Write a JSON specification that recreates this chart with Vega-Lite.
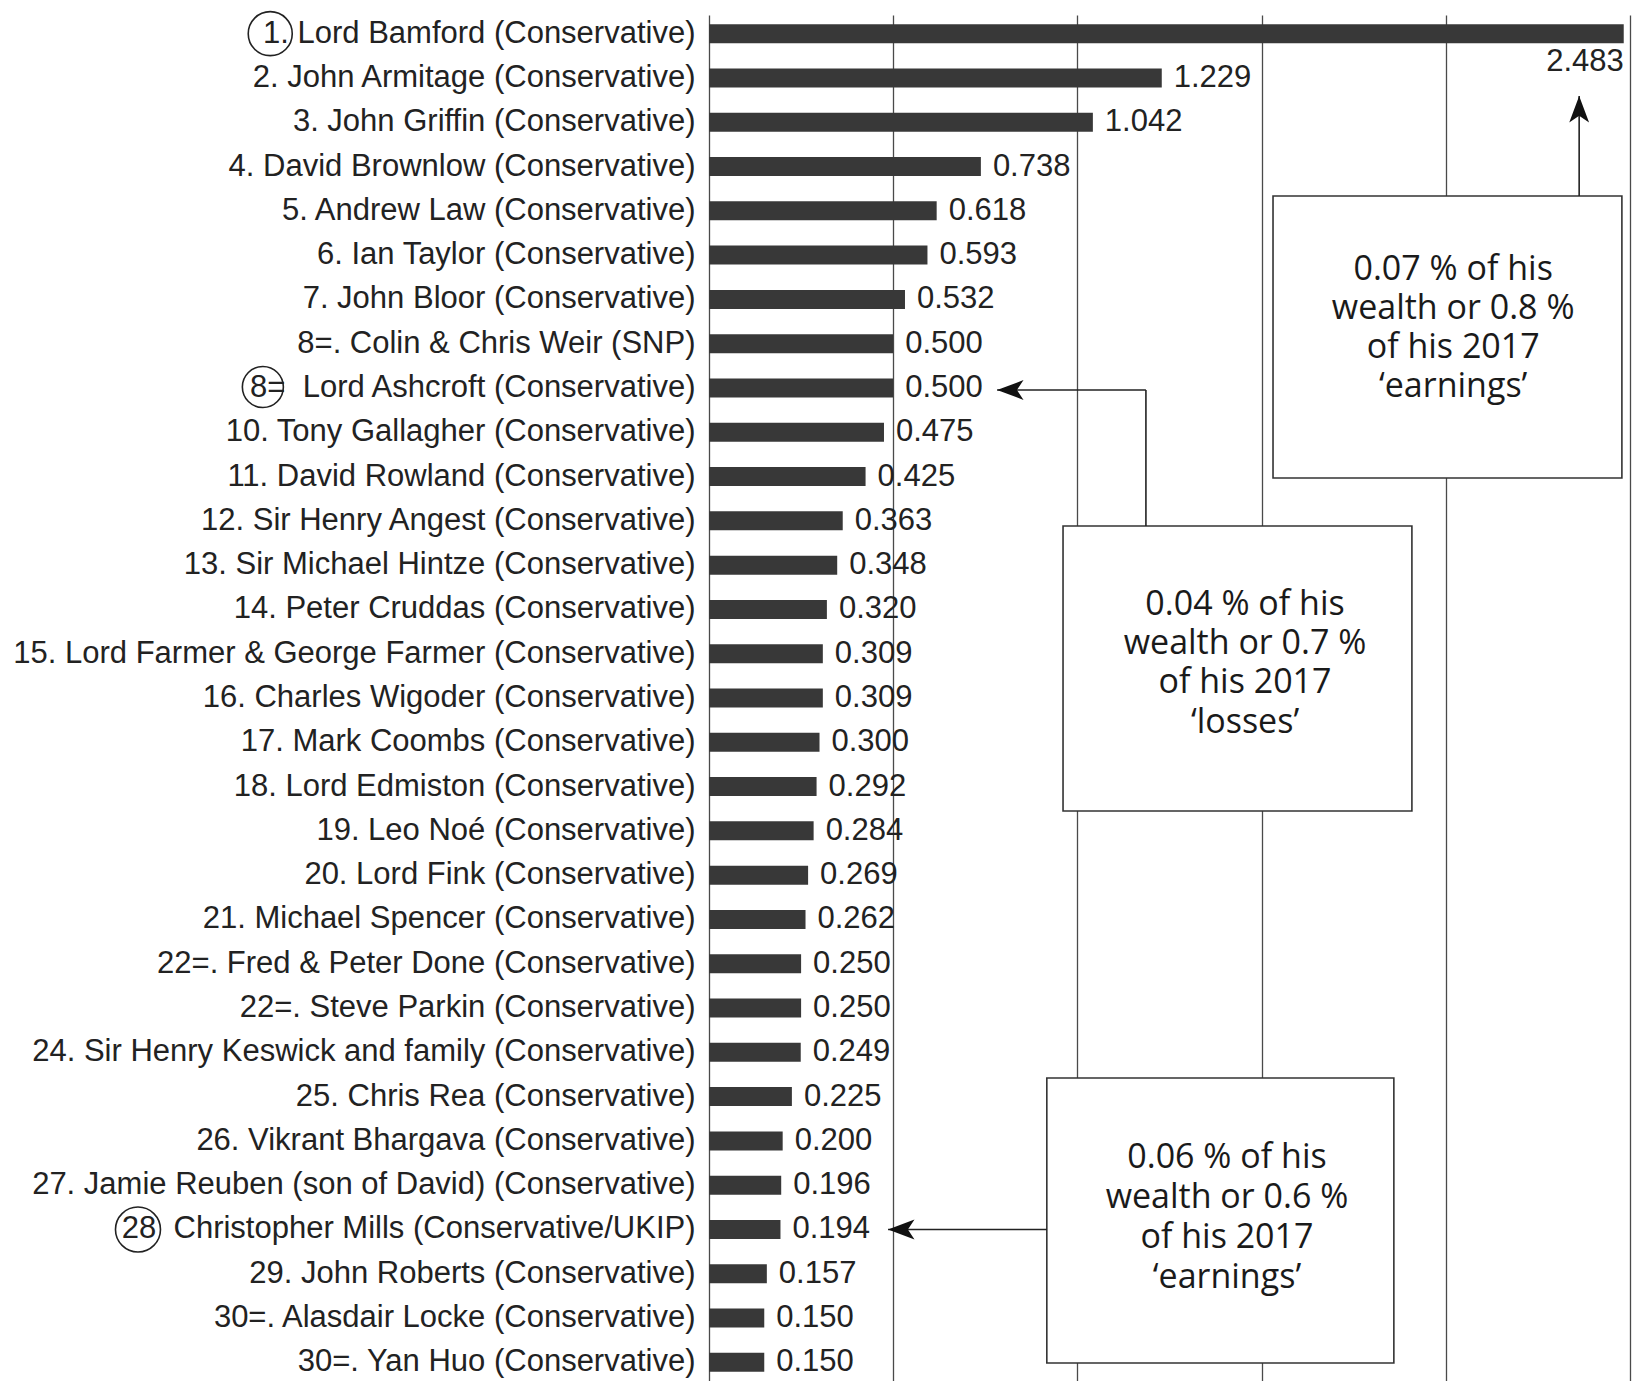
{
  "$schema": "https://vega.github.io/schema/vega-lite/v6.json",
  "autosize": {"type": "none"},
  "padding": {"left": 709, "top": 15, "right": 4, "bottom": 0},
  "width": 921,
  "height": 1366,
  "background": "white",
  "config": {"view": {"stroke": null}},
  "datasets": {
    "donors": [
      {"order": 1, "label": "1. Lord Bamford (Conservative)", "value": 2.483},
      {"order": 2, "label": "2. John Armitage (Conservative)", "value": 1.229},
      {"order": 3, "label": "3. John Griffin (Conservative)", "value": 1.042},
      {"order": 4, "label": "4. David Brownlow (Conservative)", "value": 0.738},
      {"order": 5, "label": "5. Andrew Law (Conservative)", "value": 0.618},
      {"order": 6, "label": "6. Ian Taylor (Conservative)", "value": 0.593},
      {"order": 7, "label": "7. John Bloor (Conservative)", "value": 0.532},
      {"order": 8, "label": "8=. Colin & Chris Weir (SNP)", "value": 0.500},
      {"order": 9, "label": "8=\u00a0 Lord Ashcroft (Conservative)", "value": 0.500},
      {"order": 10, "label": "10. Tony Gallagher (Conservative)", "value": 0.475},
      {"order": 11, "label": "11. David Rowland (Conservative)", "value": 0.425},
      {"order": 12, "label": "12. Sir Henry Angest (Conservative)", "value": 0.363},
      {"order": 13, "label": "13. Sir Michael Hintze (Conservative)", "value": 0.348},
      {"order": 14, "label": "14. Peter Cruddas (Conservative)", "value": 0.320},
      {"order": 15, "label": "15. Lord Farmer & George Farmer (Conservative)", "value": 0.309},
      {"order": 16, "label": "16. Charles Wigoder (Conservative)", "value": 0.309},
      {"order": 17, "label": "17. Mark Coombs (Conservative)", "value": 0.300},
      {"order": 18, "label": "18. Lord Edmiston (Conservative)", "value": 0.292},
      {"order": 19, "label": "19. Leo Noé (Conservative)", "value": 0.284},
      {"order": 20, "label": "20. Lord Fink (Conservative)", "value": 0.269},
      {"order": 21, "label": "21. Michael Spencer (Conservative)", "value": 0.262},
      {"order": 22, "label": "22=. Fred & Peter Done (Conservative)", "value": 0.250},
      {"order": 23, "label": "22=. Steve Parkin (Conservative)", "value": 0.250},
      {"order": 24, "label": "24. Sir Henry Keswick and family (Conservative)", "value": 0.249},
      {"order": 25, "label": "25. Chris Rea (Conservative)", "value": 0.225},
      {"order": 26, "label": "26. Vikrant Bhargava (Conservative)", "value": 0.200},
      {"order": 27, "label": "27. Jamie Reuben (son of David) (Conservative)", "value": 0.196},
      {"order": 28, "label": "28\u00a0 Christopher Mills (Conservative/UKIP)", "value": 0.194},
      {"order": 29, "label": "29. John Roberts (Conservative)", "value": 0.157},
      {"order": 30, "label": "30=. Alasdair Locke (Conservative)", "value": 0.150},
      {"order": 31, "label": "30=. Yan Huo (Conservative)", "value": 0.150}
    ],
    "boxes": [
      {"x1": 1.531, "x2": 2.478, "y1": 4.666, "y2": 11.033},
      {"x1": 0.961, "x2": 1.908, "y1": 12.117, "y2": 18.551},
      {"x1": 0.917, "x2": 1.859, "y1": 24.580, "y2": 31.015}
    ],
    "lines": [
      {"x1": 2.362, "x2": 2.362, "y1": 2.408, "y2": 4.666},
      {"x1": 1.186, "x2": 1.186, "y1": 9.046, "y2": 12.117},
      {"x1": 0.782, "x2": 1.186, "y1": 9.046, "y2": 9.046},
      {"x1": 0.486, "x2": 0.917, "y1": 28.0, "y2": 28.0}
    ],
    "upArrows": [
      {"x": 2.362, "y": 2.408}
    ],
    "leftArrows": [
      {"x": 0.782, "y": 9.046},
      {"x": 0.486, "y": 28.0}
    ],
    "circles": [
      {"x": -1.191, "y": 1.0, "d": 44},
      {"x": -1.211, "y": 8.978, "d": 41},
      {"x": -1.550, "y": 28.0, "d": 45}
    ],
    "notes": [
      {"x": 2.02, "y": 6.336, "t": "0.07 % of his"},
      {"x": 2.02, "y": 7.217, "t": "wealth or 0.8 %"},
      {"x": 2.02, "y": 8.097, "t": "of his 2017"},
      {"x": 2.02, "y": 8.978, "t": "‘earnings’"},
      {"x": 1.455, "y": 13.900, "t": "0.04 % of his"},
      {"x": 1.455, "y": 14.781, "t": "wealth or 0.7 %"},
      {"x": 1.455, "y": 15.662, "t": "of his 2017"},
      {"x": 1.455, "y": 16.565, "t": "‘losses’"},
      {"x": 1.406, "y": 26.386, "t": "0.06 % of his"},
      {"x": 1.406, "y": 27.289, "t": "wealth or 0.6 %"},
      {"x": 1.406, "y": 28.192, "t": "of his 2017"},
      {"x": 1.406, "y": 29.095, "t": "‘earnings’"}
    ],
    "top": [
      {"x": 2.483, "y": 1.651, "t": "2.483"}
    ]
  },
  "resolve": {"scale": {"y": "independent"}},
  "layer": [
    {
      "data": {"name": "donors"},
      "encoding": {
        "y": {
          "field": "label", "type": "nominal", "sort": null,
          "scale": {"paddingInner": 0.571, "paddingOuter": 0.2065},
          "axis": {
            "title": null, "ticks": false, "domain": false,
            "labelFont": "Liberation Sans", "labelFontSize": 31,
            "labelColor": "#222", "labelPadding": 14, "labelLimit": 1000
          }
        },
        "x": {
          "field": "value", "type": "quantitative",
          "scale": {"domain": [0, 2.5], "nice": false},
          "axis": {
            "title": null, "labels": false, "ticks": false, "domain": false,
            "grid": true, "values": [0, 0.5, 1, 1.5, 2, 2.5],
            "gridColor": "#4a4a4a", "gridWidth": 1.3, "gridOpacity": 1
          }
        }
      },
      "layer": [
        {"mark": {"type": "bar", "color": "#383838"}},
        {
          "mark": {"type": "text", "align": "left", "baseline": "middle", "dx": 12,
                   "font": "Liberation Sans", "fontSize": 31, "color": "#222"},
          "encoding": {
            "text": {
              "condition": {"test": "datum.order === 1", "value": ""},
              "field": "value", "type": "quantitative", "format": ".3f"
            }
          }
        }
      ]
    },
    {
      "layer": [
        {
          "data": {"name": "boxes"},
          "mark": {"type": "rect", "fill": "white", "stroke": "#333", "strokeWidth": 1.6},
          "encoding": {
            "x": {"field": "x1", "type": "quantitative", "scale": {"domain": [0, 2.5], "nice": false}},
            "x2": {"field": "x2"},
            "y": {"field": "y1", "type": "quantitative",
                  "scale": {"domain": [0.579, 31.421], "nice": false, "zero": false, "reverse": true},
                  "axis": null},
            "y2": {"field": "y2"}
          }
        },
        {
          "data": {"name": "lines"},
          "mark": {"type": "rule", "color": "#222", "strokeWidth": 1.6},
          "encoding": {
            "x": {"field": "x1", "type": "quantitative"},
            "x2": {"field": "x2"},
            "y": {"field": "y1", "type": "quantitative"},
            "y2": {"field": "y2"}
          }
        },
        {
          "data": {"name": "upArrows"},
          "mark": {"type": "point", "shape": "M0,0L0.75,2L0,1.5L-0.75,2Z", "size": 700,
                   "filled": true, "color": "#111", "opacity": 1},
          "encoding": {
            "x": {"field": "x", "type": "quantitative"},
            "y": {"field": "y", "type": "quantitative"}
          }
        },
        {
          "data": {"name": "leftArrows"},
          "mark": {"type": "point", "shape": "M0,0L2,-0.75L1.5,0L2,0.75Z", "size": 700,
                   "filled": true, "color": "#111", "opacity": 1},
          "encoding": {
            "x": {"field": "x", "type": "quantitative"},
            "y": {"field": "y", "type": "quantitative"}
          }
        },
        {
          "data": {"name": "circles"},
          "mark": {"type": "point", "shape": "circle", "filled": false,
                   "stroke": "#222", "strokeWidth": 1.6, "opacity": 1},
          "encoding": {
            "x": {"field": "x", "type": "quantitative"},
            "y": {"field": "y", "type": "quantitative"},
            "size": {"field": "d", "type": "quantitative",
                     "scale": {"type": "pow", "exponent": 2, "domain": [0, 45], "range": [0, 2025]},
                     "legend": null}
          }
        },
        {
          "data": {"name": "notes"},
          "mark": {"type": "text", "align": "center", "baseline": "middle",
                   "font": "Open Sans", "fontSize": 34, "color": "#1a1a1a"},
          "encoding": {
            "x": {"field": "x", "type": "quantitative"},
            "y": {"field": "y", "type": "quantitative"},
            "text": {"field": "t"}
          }
        },
        {
          "data": {"name": "top"},
          "mark": {"type": "text", "align": "right", "baseline": "middle",
                   "font": "Liberation Sans", "fontSize": 31, "color": "#222"},
          "encoding": {
            "x": {"field": "x", "type": "quantitative"},
            "y": {"field": "y", "type": "quantitative"},
            "text": {"field": "t"}
          }
        }
      ]
    }
  ]
}
